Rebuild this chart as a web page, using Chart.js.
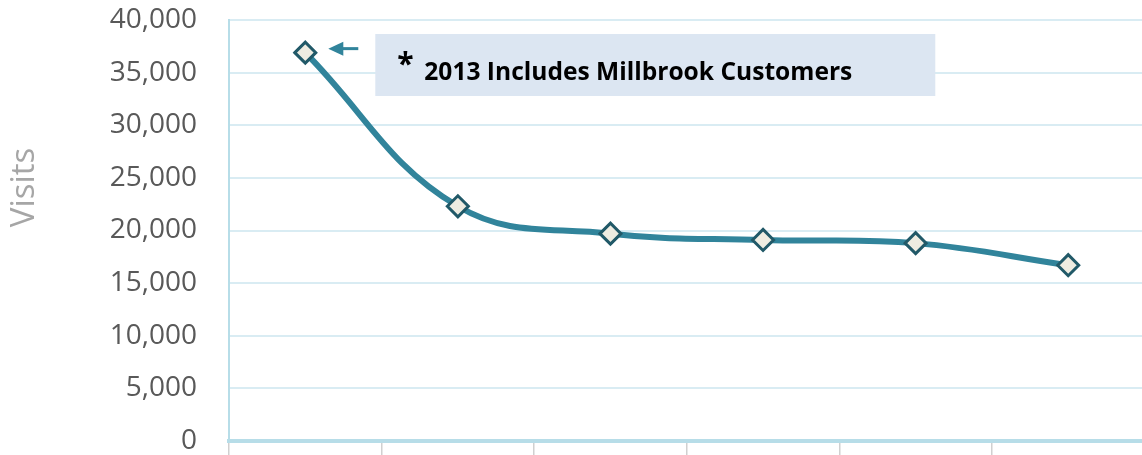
<!DOCTYPE html>
<html>
<head>
<meta charset="utf-8">
<script src="https://cdn.jsdelivr.net/npm/chart.js@4.4.0/dist/chart.umd.min.js"></script>
<style>
  html, body { margin: 0; padding: 0; background: #fff; overflow: hidden; }
  #wrap { width: 1158px; height: 455px; }
</style>
</head>
<body>
<div id="wrap"><canvas id="chart"></canvas></div>
<script>
// categories (labels are not shown in the picture)
let years = ['2013', '2014', '2015', '2016', '2017', '2018']
let visits = [36900, 22300, 19700, 19100, 18800, 16700]
let yTicks = [0, 5000, 10000, 15000, 20000, 25000, 30000, 35000, 40000]
let axisTitle = 'Visits'
let noteMark = '*'
let noteText = '2013 Includes Millbrook Customers'

// title + annotation box drawn on top of the chart
const extras = {
    id: 'extras',
    afterDraw(chart) {
        const c = chart.ctx
        const area = chart.chartArea
        const p0 = chart.getDatasetMeta(0).data[0]

        // axis title
        c.save()
        c.translate(34, (area.top + area.bottom) / 2 - 43)
        c.rotate(-Math.PI / 2)
        c.fillStyle = '#a6a6a6'
        c.font = '33px "Open Sans"'
        c.textAlign = 'center'
        c.textBaseline = 'alphabetic'
        c.fillText(axisTitle, 0, 0)
        c.restore()

        // arrow
        c.save()
        c.strokeStyle = '#31849b'
        c.fillStyle = '#31849b'
        c.lineWidth = 3
        const ax = p0.x + 23, ay = p0.y - 4
        c.beginPath()
        c.moveTo(ax + 12, ay)
        c.lineTo(ax + 30, ay)
        c.stroke()
        c.beginPath()
        c.moveTo(ax, ay)
        c.lineTo(ax + 15, ay - 7)
        c.lineTo(ax + 15, ay + 7)
        c.closePath()
        c.fill()

        // box
        const bx = p0.x + 70, by = area.top + 14
        c.fillStyle = '#dce6f2'
        c.fillRect(bx, by, 560, 62)
        c.fillStyle = '#000'
        c.font = 'bold 30px "Open Sans"'
        c.textBaseline = 'alphabetic'
        c.fillText(noteMark, bx + 22, by + 40)
        c.font = 'bold 25px "Open Sans"'
        c.fillText(noteText, bx + 49, by + 46, 428)
        c.restore()
    }
}

const ctx = document.getElementById('chart').getContext('2d')

new Chart(ctx, {
    type: 'line',
    data: {
        labels: years,
        datasets: [{
            label: axisTitle,
            data: visits,
            fill: false,
            borderColor: '#31849b',
            borderWidth: 6,
            tension: 0.4,
            pointStyle: 'rectRot',
            pointRadius: 10.5,
            pointHoverRadius: 10.5,
            pointBackgroundColor: '#eeece1',
            pointBorderColor: '#215968',
            pointBorderWidth: 3
        }]
    },
    options: {
        responsive: true,
        maintainAspectRatio: false,
        animation: false,
        layout: { padding: { top: 20, right: 6, bottom: 0, left: 0 } },
        plugins: {
            legend: { display: false },
            tooltip: { enabled: false }
        },
        scales: {
            x: {
                offset: true,
                afterFit: (s) => { s.height = 14; s.paddingLeft = 0; s.paddingRight = 0 },
                grid: {
                    offset: true,
                    drawOnChartArea: false,
                    drawTicks: true,
                    tickLength: 14,
                    color: '#d0d0d0',
                    lineWidth: 1.5
                },
                border: { color: '#b7dde8', width: 4 },
                ticks: { display: false }
            },
            y: {
                min: 0,
                max: 40000,
                afterBuildTicks: (s) => { s.ticks = yTicks.map(v => ({ value: v })) },
                afterFit: (s) => { s.width = 229; s.paddingTop = 0; s.paddingBottom = 0 },
                grid: { color: '#d9ecf3', lineWidth: 2, drawTicks: false },
                border: { color: '#b7dde8', width: 2 },
                ticks: {
                    padding: 32,
                    color: '#595959',
                    font: { family: 'Open Sans', size: 28 },
                    callback: (v) => v.toLocaleString('en-US')
                }
            }
        }
    },
    plugins: [extras]
})
</script>
</body>
</html>
